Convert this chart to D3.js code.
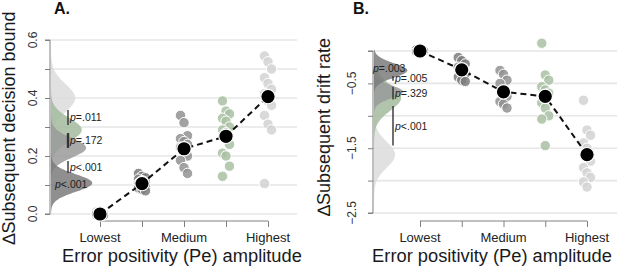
<!DOCTYPE html>
<html><head><meta charset="utf-8">
<script src="https://cdn.jsdelivr.net/npm/d3@7"></script>
<style>
html,body{margin:0;padding:0;background:#fff;}
svg{display:block;font-family:"Liberation Sans",Arial,sans-serif;}
</style></head>
<body>
<svg id="c" width="617" height="266"></svg>
<script>
// ---------- DATA ----------
const categories = ["Lowest","","Medium","","Highest"];
const pointColors = ["#6f6f6f","#7c7c7c","#929292","#a9c1a3","#d2d2d2"];
const densityColors = ["#dcdcdc","#a3bb9d","#9a9a9a","#7b7b7b"]; // back to front

// Panel A: Δ subsequent decision bound
const aPoints = [
  [0.006,0.003,0,-0.003,0.004,-0.004,0.001,0],
  [0.14,0.13,0.125,0.12,0.115,0.11,0.105,0.1,0.095,0.09,0.085,0.08],
  [0.34,0.315,0.27,0.26,0.25,0.24,0.23,0.21,0.2,0.185,0.16,0.14],
  [0.39,0.355,0.345,0.33,0.32,0.3,0.29,0.28,0.24,0.21,0.2,0.165,0.13],
  [0.545,0.525,0.5,0.47,0.45,0.43,0.415,0.39,0.375,0.34,0.31,0.29,0.105]
];
const aMeans = [0, 0.105, 0.225, 0.268, 0.405];
const aDensMean = [0.40, 0.29, 0.228, 0.107];
const aDensSD = [0.048, 0.04, 0.033, 0.03];
const aDensPeak = [0.55, 0.70, 0.80, 0.94];
const aTicks = [0,0.1,0.2,0.3,0.4,0.5,0.6];
const aTickLabels = [0,0.2,0.4,0.6];
const aBars = [[0.307,0.359],[0.228,0.279],[0.141,0.183]];
const aBarText = ["=.011","=.172","<.001"];
const aInnerText = {v:0.103, t:"<.001"};

// Panel B: Δ subsequent drift rate
const bPoints = [
  [0.02,0.01,0,-0.01,-0.02,0.005],
  [-0.1,-0.15,-0.2,-0.25,-0.3,-0.35,-0.4,-0.45,-0.47],
  [-0.3,-0.36,-0.45,-0.5,-0.6,-0.7,-0.78,-0.82,-0.88],
  [0.12,-0.37,-0.45,-0.55,-0.6,-0.65,-0.8,-0.88,-1.0,-1.05,-1.46],
  [-0.76,-1.22,-1.3,-1.42,-1.5,-1.7,-1.8,-1.88,-1.95,-2.02,-2.1]
];
const bMeans = [0, -0.29, -0.63, -0.70, -1.6];
const bDensMean = [-1.6, -0.72, -0.63, -0.3];
const bDensSD = [0.2, 0.2, 0.1, 0.11];
const bDensPeak = [0.48, 0.62, 0.66, 0.76];
const bTicks = [0,-0.5,-1,-1.5,-2,-2.5];
const bTickLabels = [-0.5,-1.5,-2.5];
const bBars = [[-0.46,-0.385],[-0.75,-0.55],[-1.46,-0.85]];
const bBarText = ["=.005","=.329","<.001"];
const bInnerText = {v:-0.26, t:"=.003"};

// ---------- DRAW ----------
const svg = d3.select("#c");
const axisCol = "#808080";

function panel(o){
  const g = svg.append("g");
  const x = d3.scaleLinear().domain([0,4]).range(o.xr);
  const y = d3.scaleLinear().domain(o.yd).range(o.yr);
  const dens = d3.scaleLinear().domain([0,1]).range([0,44]);
  // grid
  g.selectAll("line.grid").data(o.ticks).join("line")
    .attr("x1",o.axX).attr("x2",o.gridEnd)
    .attr("y1",d=>y(d)).attr("y2",d=>y(d))
    .attr("stroke","#e6e6e6").attr("stroke-width",1.6);
  // y axis
  const ya = d3.axisLeft(y).tickValues(o.ticks).tickSize(5).tickFormat("");
  const yg = g.append("g").attr("transform",`translate(${o.axX},0)`).call(ya);
  yg.select(".domain").attr("stroke",axisCol).attr("d",`M-5,${y(o.ticks[o.ticks.length-1])}H0V${y(o.ticks[0])}H-5`);
  yg.selectAll(".tick line").attr("stroke",axisCol);
  g.selectAll("text.yl").data(o.tickLabels).join("text")
    .attr("transform",d=>`translate(${o.ylX},${y(d)}) rotate(-90)`)
    .attr("text-anchor","middle").attr("font-size",12).attr("fill","#333")
    .text(d=>o.fmt(d));
  // x axis
  const xa = d3.axisBottom(x).tickValues([0,1,2,3,4]).tickSize(6).tickFormat("");
  const xg = g.append("g").attr("transform",`translate(0,221)`).call(xa);
  xg.select(".domain").attr("stroke",axisCol).attr("d",`M${o.xr[0]},0H${o.xr[1]}`);
  xg.selectAll(".tick line").attr("stroke",axisCol);
  g.selectAll("text.xl").data(categories).join("text")
    .attr("x",(d,i)=>x(i)).attr("y",242).attr("text-anchor","middle")
    .attr("font-size",13).attr("fill","#222").text(d=>d);
  // titles
  g.append("text").attr("x",o.titleX).attr("y",262).attr("text-anchor","middle")
    .attr("font-size",18.3).attr("fill","#1a1a1a").text("Error positivity (Pe) amplitude");
  g.append("text").attr("transform",`translate(${o.ytX},${o.ytY}) rotate(-90)`)
    .attr("text-anchor","middle").attr("font-size",18).attr("fill","#1a1a1a").text(o.ytitle);
  g.append("text").attr("x",o.letterX).attr("y",14).attr("font-size",16).attr("font-weight","bold")
    .attr("fill","#111").text(o.letter);
  // densities
  const base = o.axX + 1;
  o.dMean.forEach((m,i)=>{
    const lo = Math.max(o.yd[0], m-4*o.dSD[i]), hi = Math.min(o.yd[1]+0.02, m+4*o.dSD[i]);
    const vs = d3.range(81).map(k=>lo+(hi-lo)*k/80);
    const area = d3.area().y(v=>y(v)).x0(base)
      .x1(v=>base+dens(o.dPeak[i]*Math.exp(-0.5*((v-m)/o.dSD[i])**2))).curve(d3.curveBasis);
    g.append("path").datum(vs).attr("d",area).attr("fill",densityColors[i]).attr("fill-opacity",0.85);
  });
  // p bars
  o.bars.forEach((b,i)=>{
    g.append("line").attr("x1",o.barX).attr("x2",o.barX).attr("y1",y(b[0])).attr("y2",y(b[1]))
      .attr("stroke","#333").attr("stroke-width",i===o.thick?2.4:1.4);
    const t = g.append("text").attr("x",o.barX+2).attr("y",y((b[0]+b[1])/2)+4)
      .attr("font-size",10.5).attr("fill","#222");
    t.append("tspan").attr("font-style","italic").text("p");
    t.append("tspan").text(o.barText[i]);
  });
  const it = g.append("text").attr("x",o.innerX).attr("y",y(o.inner.v)+4)
    .attr("font-size",10.5).attr("fill","#222");
  it.append("tspan").attr("font-style","italic").text("p");
  it.append("tspan").text(o.inner.t);
  // points
  o.points.forEach((arr,ci)=>{
    g.selectAll(null).data(arr).join("circle")
      .attr("cx",(d,k)=>x(ci)+((k%3)-1)*3.5).attr("cy",d=>y(d)).attr("r",5.2)
      .attr("fill",pointColors[ci]).attr("fill-opacity",0.85)
      .attr("stroke","#fff").attr("stroke-width",1);
  });
  // mean line
  g.append("path").datum(o.means)
    .attr("d",d3.line().x((d,i)=>x(i)).y(d=>y(d)))
    .attr("fill","none").attr("stroke","#111").attr("stroke-width",2).attr("stroke-dasharray","6,4");
  g.selectAll(null).data(o.means).join("circle")
    .attr("cx",(d,i)=>x(i)).attr("cy",d=>y(d)).attr("r",7.2)
    .attr("fill","#000").attr("stroke","#fff").attr("stroke-width",1.2);
}

panel({xr:[100,268], yd:[0,0.6], yr:[214,40], axX:50, gridEnd:297, ticks:aTicks, tickLabels:aTickLabels,
  fmt:d3.format(".1f"), ylX:37, titleX:182, ytX:15, ytY:128, ytitle:"\u2206Subsequent decision bound",
  letterX:54, letter:"A.", dMean:aDensMean, dSD:aDensSD, dPeak:aDensPeak,
  bars:aBars, barText:aBarText, barX:68, thick:1, inner:aInnerText, innerX:55,
  points:aPoints, means:aMeans});

panel({xr:[420,587], yd:[-2.5,0], yr:[213,51], axX:373, gridEnd:617, ticks:bTicks, tickLabels:bTickLabels,
  fmt:d3.format(".1f"), ylX:356, titleX:492, ytX:330, ytY:127, ytitle:"\u2206Subsequent drift rate",
  letterX:353, letter:"B.", dMean:bDensMean, dSD:bDensSD, dPeak:bDensPeak,
  bars:bBars, barText:bBarText, barX:393, thick:-1, inner:bInnerText, innerX:373,
  points:bPoints, means:bMeans});
</script>
</body></html>
